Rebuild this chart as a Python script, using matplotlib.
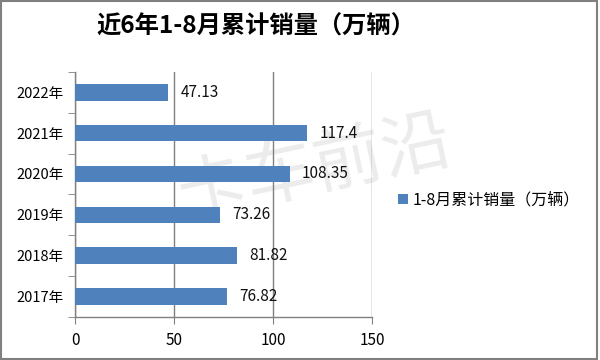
import matplotlib
matplotlib.use("Agg")
import matplotlib.pyplot as plt
from matplotlib.patches import Rectangle

plt.rcParams['font.family'] = ['Noto Sans CJK SC', 'DejaVu Sans']

years = ["2017年", "2018年", "2019年", "2020年", "2021年", "2022年"]
values = [76.82, 81.82, 73.26, 108.35, 117.4, 47.13]
value_labels = ["76.82", "81.82", "73.26", "108.35", "117.4", "47.13"]
xticks = [0, 50, 100, 150]
title = "近6年1-8月累计销量（万辆）"
series_name = "1-8月累计销量（万辆）"
bar_color = "#4F81BD"

fig = plt.figure(figsize=(6, 3.6), dpi=100)

# watermark (behind the plot)
fig.text(0.525, 0.53, "卡车前沿", ha='center', va='center', fontsize=50,
         color='#ececec', rotation=12, zorder=-5)

ax = fig.add_axes([0.125, 0.12, 0.495, 0.68])
ax.patch.set_alpha(0)

y = list(range(len(years)))
bars = ax.barh(y, values, height=0.4, color=bar_color, zorder=3, label=series_name)
for yi, v, lab in zip(y, values, value_labels):
    ax.annotate(lab, (v, yi), xytext=(9, 0), textcoords="offset points",
                va="center", ha="left", fontsize=11, color="#111111", zorder=4)

ax.set_xlim(0, 150)
ax.set_ylim(-0.5, 5.5)
ax.set_xticks(xticks)
ax.set_xticklabels([str(t) for t in xticks], fontsize=11)
ax.set_yticks(y)
ax.set_yticklabels(years, fontsize=10.5)
ax.set_yticks([i - 0.5 for i in range(len(years) + 1)], minor=True)
ax.tick_params(axis='y', which='major', length=0, pad=8)
ax.tick_params(axis='y', which='minor', length=5, direction='out', color='#808080')
ax.tick_params(axis='x', length=5, direction='out', color='#808080', pad=6)
ax.grid(axis='x', color='#808080', linewidth=1.0, zorder=1)
for s in ['top', 'right']:
    ax.spines[s].set_visible(False)
for s in ['left', 'bottom']:
    ax.spines[s].set_color('#808080')
    ax.spines[s].set_linewidth(1.0)

fig.text(0.427, 0.925, title, ha='center', va='center', fontsize=17.5, fontweight='bold')

fig.legend(handles=[bars], labels=[series_name], loc='center left',
           bbox_to_anchor=(0.64, 0.445), frameon=False, fontsize=11.5,
           handlelength=0.6, handleheight=0.6, handletextpad=0.3)

# figure border
fig.patches.append(Rectangle((0.002, 0.003), 0.993, 0.994, transform=fig.transFigure,
                             fill=False, edgecolor='#808080', linewidth=1.5))

fig.savefig("out.png", dpi=100)
